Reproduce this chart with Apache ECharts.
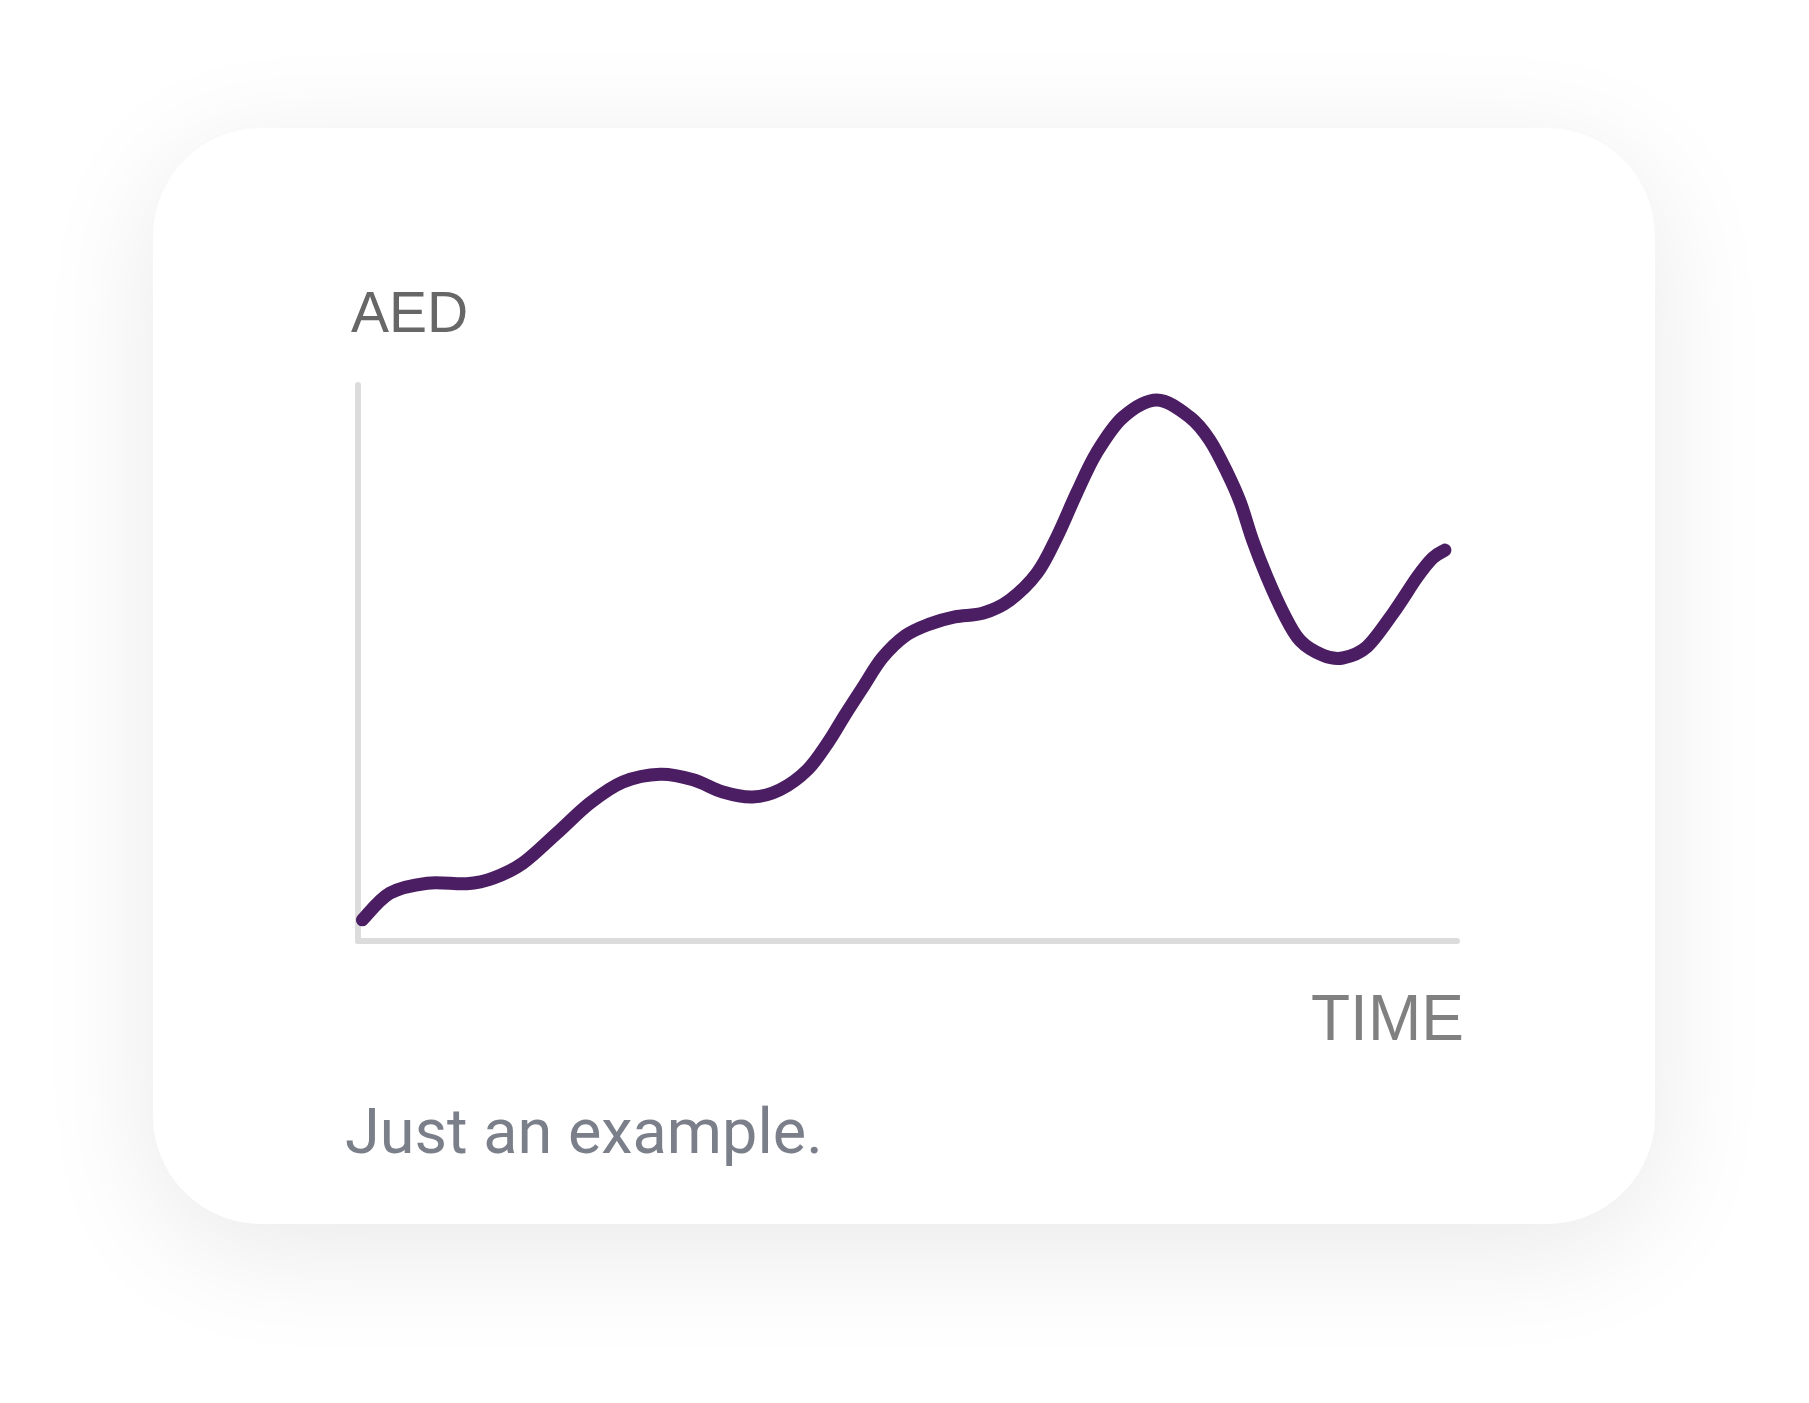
<!DOCTYPE html>
<html>
<head>
<meta charset="utf-8">
<script src="https://cdn.jsdelivr.net/npm/echarts@6/dist/echarts.min.js"></script>
<style>
  html, body { margin: 0; padding: 0; background: #ffffff; }
  #chart { width: 1809px; height: 1403px; }
</style>
</head>
<body>
<div id="chart"></div>
<script>
// Data (x: time 0-100, y: AED 0-100)
const timeValues = [0.4, 2.9, 6.3, 9.9, 12.3, 15.0, 18.1, 21.1, 24.1, 27.5, 30.5, 33.2, 35.9, 38.4, 40.9, 42.8, 44.3, 45.9, 47.7, 49.8, 52.0, 54.3, 56.9, 59.3, 61.8, 63.6, 65.4, 67.2, 69.6, 72.7, 75.7, 77.5, 79.1, 80.3, 81.4, 82.7, 84.2, 85.7, 87.8, 89.6, 91.8, 94.2, 96.4, 97.8, 98.9];
const aedValues  = [3.8, 8.6, 10.4, 10.3, 11.3, 14.0, 19.4, 24.8, 28.6, 30.0, 29.0, 26.8, 25.9, 27.2, 30.8, 35.8, 40.6, 45.5, 50.9, 54.9, 57.0, 58.3, 59.0, 61.3, 66.2, 72.7, 80.6, 87.8, 94.2, 97.3, 94.2, 90.1, 84.2, 78.8, 72.1, 65.5, 59.0, 54.1, 51.4, 50.9, 52.9, 59.0, 65.5, 68.9, 70.3];
const yAxisTitle = 'AED';
const xAxisTitle = 'TIME';
const caption = 'Just an example.';

const seriesData = timeValues.map((t, i) => [t, aedValues[i]]);

const chart = echarts.init(document.getElementById('chart'), null, { renderer: 'canvas' });

const axisLineStyle = { color: '#dcdcdc', width: 6, cap: 'round' };

// Smooth curve through all points, positioned by the chart's own axes (api.coord)
function renderCurve(params, api) {
  if (params.dataIndex !== 0) return null;
  const pts = [];
  for (let i = 0; i < seriesData.length; i++) pts.push(api.coord([api.value(0, i), api.value(1, i)]));
  let d = 'M' + pts[0][0] + ' ' + pts[0][1];
  for (let i = 0; i < pts.length - 1; i++) {
    const p0 = pts[Math.max(0, i - 1)], p1 = pts[i], p2 = pts[i + 1], p3 = pts[Math.min(pts.length - 1, i + 2)];
    const c1x = p1[0] + (p2[0] - p0[0]) / 6, c1y = p1[1] + (p2[1] - p0[1]) / 6;
    const c2x = p2[0] - (p3[0] - p1[0]) / 6, c2y = p2[1] - (p3[1] - p1[1]) / 6;
    d += ' C' + c1x + ' ' + c1y + ' ' + c2x + ' ' + c2y + ' ' + p2[0] + ' ' + p2[1];
  }
  return {
    type: 'path',
    shape: { pathData: d },
    style: { fill: 'none', stroke: '#4b1d62', lineWidth: 13, lineCap: 'round', lineJoin: 'round' }
  };
}

chart.setOption({
  backgroundColor: '#ffffff',
  animation: false,
  grid: { left: 358, right: 352, top: 385, bottom: 462, containLabel: false },
  xAxis: {
    type: 'value', min: 0, max: 100,
    axisLine: { show: true, onZero: false, lineStyle: axisLineStyle },
    axisTick: { show: false }, axisLabel: { show: false }, splitLine: { show: false }
  },
  yAxis: {
    type: 'value', min: 0, max: 100,
    axisLine: { show: true, onZero: false, lineStyle: axisLineStyle },
    axisTick: { show: false }, axisLabel: { show: false }, splitLine: { show: false }
  },
  graphic: [
    {
      type: 'rect', z: -10, silent: true,
      shape: { x: 153, y: 128, width: 1502, height: 1096, r: 108 },
      style: { fill: '#ffffff', shadowBlur: 120, shadowColor: 'rgba(0,0,0,0.09)', shadowOffsetY: 25 }
    },
    {
      type: 'text', z: 10, silent: true,
      style: { x: 351, y: 316, text: yAxisTitle, font: '57px "Liberation Sans", Arial, sans-serif', fill: '#676767', verticalAlign: 'middle', align: 'left' }
    },
    {
      type: 'text', z: 10, silent: true,
      style: { x: 1311, y: 1022, text: xAxisTitle, font: '64px "Liberation Sans", Arial, sans-serif', fill: '#808080', verticalAlign: 'middle', align: 'left' }
    },
    {
      type: 'text', z: 10, silent: true,
      style: { x: 345, y: 1137, text: caption, font: '400 63px Roboto, "Liberation Sans", sans-serif', fill: '#7a7f8a', verticalAlign: 'middle', align: 'left' }
    }
  ],
  series: [{
    type: 'custom',
    data: seriesData,
    encode: { x: 0, y: 1 },
    clip: false,
    renderItem: renderCurve
  }]
});
</script>
</body>
</html>
